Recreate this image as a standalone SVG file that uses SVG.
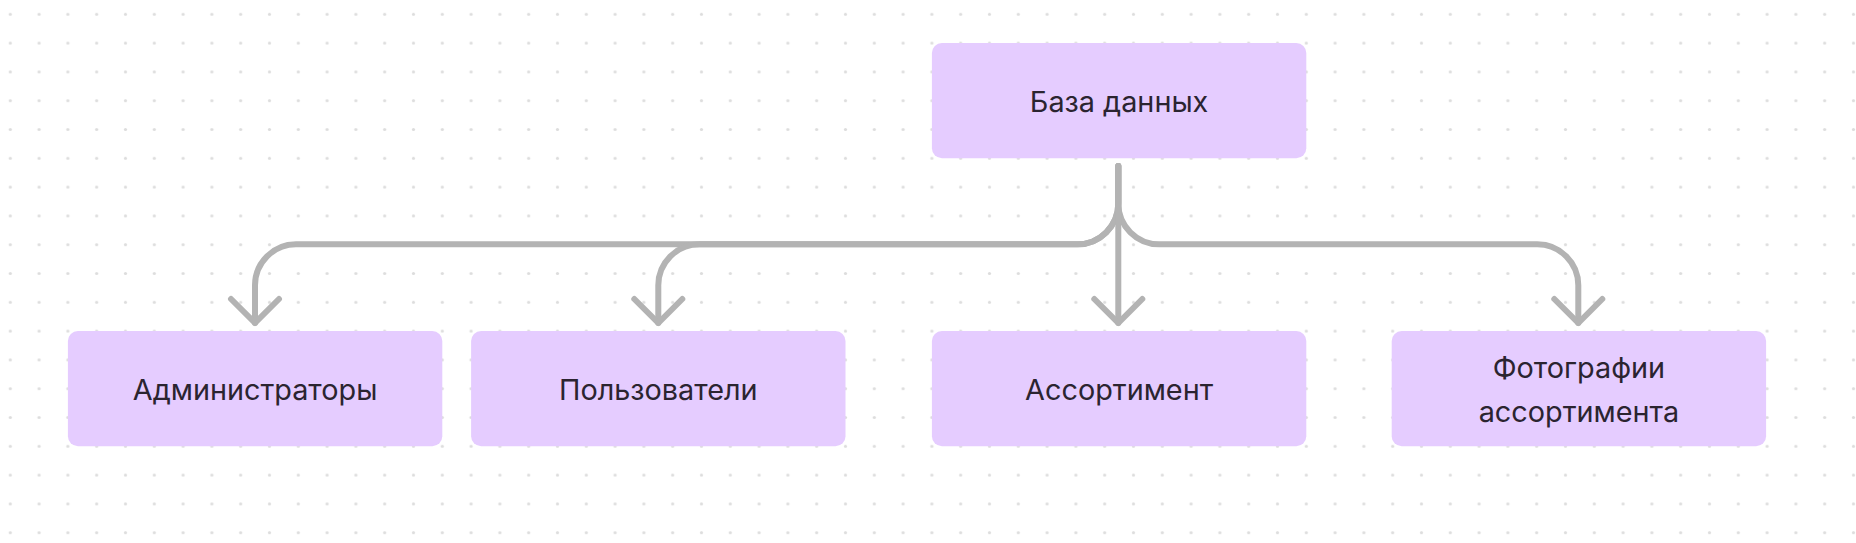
<svg xmlns="http://www.w3.org/2000/svg" width="1856" height="543" viewBox="0 0 1856 543">
<style>
.node rect{fill:#E5CCFF;}
.node text{font-family:Inter,"Noto Sans",sans-serif;font-size:28.8px;fill:#2B2430;text-anchor:middle;}
.conn{fill:none;stroke:#B3B3B3;stroke-width:6;stroke-linecap:round;stroke-linejoin:round;}
</style>
<defs>
<pattern id="dots" patternUnits="userSpaceOnUse" x="-4.1" y="-0.1" width="28.8" height="28.8">
<circle cx="14.4" cy="14.4" r="1.6" fill="#DDDDDD"/>
</pattern>
</defs>
<rect width="1856" height="543" fill="#FFFFFF"/>
<rect width="1856" height="543" fill="url(#dots)"/>
<g id="connectors">
<path class="conn" d="M1118.3 166 V203.3 A41 41 0 0 1 1077.3 244.3 H296 A41 41 0 0 0 255 285.3 V323"/>
<path class="conn" d="M1118.3 166 V203.3 A41 41 0 0 1 1077.3 244.3 H699.3 A41 41 0 0 0 658.3 285.3 V323"/>
<path class="conn" d="M1118.3 166 V203.3 A41 41 0 0 0 1159.3 244.3 H1537.3 A41 41 0 0 1 1578.3 285.3 V323"/>
<path class="conn" d="M1118.3 166 V323"/>
<polyline class="conn" points="231,299 255,323 279,299"/>
<polyline class="conn" points="634.3,299 658.3,323 682.3,299"/>
<polyline class="conn" points="1094.3,299 1118.3,323 1142.3,299"/>
<polyline class="conn" points="1554.3,299 1578.3,323 1602.3,299"/>
</g>
<g id="node-db" class="node">
<rect x="931.9" y="43.1" width="374.4" height="115.2" rx="10"/>
<text x="1119.1" y="111.5">База данных</text>
</g>
<g id="node-admins" class="node">
<rect x="67.9" y="331.1" width="374.4" height="115.2" rx="10"/>
<text x="255.1" y="399.5">Администраторы</text>
</g>
<g id="node-users" class="node">
<rect x="471.1" y="331.1" width="374.4" height="115.2" rx="10"/>
<text x="658.3" y="399.5">Пользователи</text>
</g>
<g id="node-assortment" class="node">
<rect x="931.9" y="331.1" width="374.4" height="115.2" rx="10"/>
<text x="1119.1" y="399.5">Ассортимент</text>
</g>
<g id="node-photos" class="node">
<rect x="1391.7" y="331.1" width="374.4" height="115.2" rx="10"/>
<text x="1578.9" y="378">Фотографии</text>
<text x="1578.9" y="421.5">ассортимента</text>
</g>
</svg>
